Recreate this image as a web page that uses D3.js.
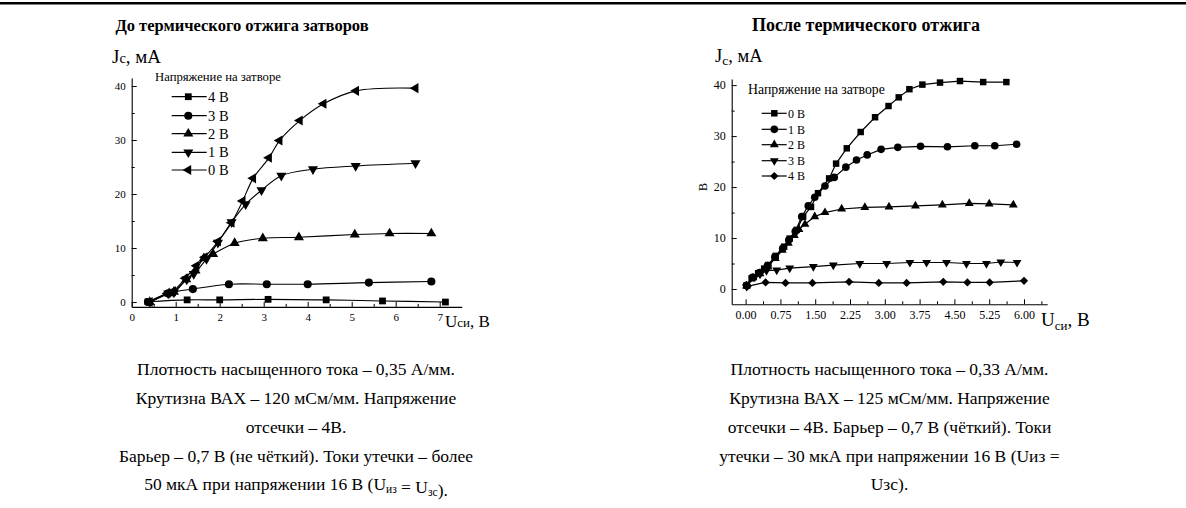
<!DOCTYPE html>
<html><head><meta charset="utf-8">
<script src="https://cdn.jsdelivr.net/npm/d3@7"></script>
<style>
html,body{margin:0;padding:0;background:#fff;}
svg{display:block;font-family:"Liberation Serif","Times New Roman",serif;}
</style></head>
<body>
<svg id="c" width="1186" height="508"></svg>
<script>
// ---------- DATA ----------
const titleLeft = "До термического отжига затворов";
const titleRight = "После термического отжига";
const legendTitle = "Напряжение на затворе";

const leftLabels = ["4 В","3 В","2 В","1 В","0 В"];
const left4V = [[0.37,0.05],[1.26,0.4],[2.0,0.4],[3.10,0.5],[4.42,0.4],[5.70,0.2],[7.13,0.0]];
const left3V = [[0.37,0.0],[0.83,1.6],[1.39,2.4],[2.21,3.3],[3.07,3.3],[4.0,3.3],[5.39,3.6],[6.81,3.8]];
const left2V = [[0.41,0.0],[0.85,1.6],[0.96,1.9],[1.24,4.2],[1.45,5.8],[1.64,8.1],[1.85,8.9],[2.34,10.9],[2.98,11.8],[3.80,12.0],[5.07,12.5],[5.86,12.7],[6.81,12.7]];
const left1V = [[0.41,0.0],[0.83,1.6],[0.96,1.8],[1.25,4.2],[1.41,5.2],[1.70,8.0],[1.96,11.0],[2.27,14.8],[2.59,18.1],[2.95,20.7],[3.40,23.4],[4.12,24.6],[5.09,25.2],[6.45,25.7]];
const left0V = [[0.41,0.0],[0.81,1.6],[0.94,2.0],[1.22,4.4],[1.47,6.7],[1.66,8.3],[1.96,11.2],[2.27,14.7],[2.52,18.7],[2.76,22.9],[3.12,26.7],[3.36,29.9],[3.82,33.6],[4.36,36.7],[5.10,39.1],[6.45,39.6]];
const leftXTicks = [0,1,2,3,4,5,6,7];
const leftYTicks = [0,10,20,30,40];

const rightLabels = ["0 В","1 В","2 В","3 В","4 В"];
const right0V = [[0.02,0.7],[0.13,2.1],[0.27,3.1],[0.40,4.0],[0.49,4.7],[0.65,6.5],[0.83,8.3],[0.95,9.9],[1.10,11.6],[1.24,14.2],[1.41,16.1],[1.56,18.8],[1.80,21.7],[1.95,24.6],[2.18,27.6],[2.48,30.8],[2.79,33.7],[3.08,35.9],[3.30,37.6],[3.53,39.2],[3.81,40.1],[4.19,40.5],[4.62,40.8],[5.12,40.6],[5.62,40.6]];
const right1V = [[0.02,0.7],[0.15,2.3],[0.30,3.2],[0.47,4.6],[0.63,6.3],[0.80,8.0],[0.93,9.6],[1.07,11.3],[1.21,14.2],[1.35,16.3],[1.49,18.0],[1.71,20.2],[1.91,21.9],[2.16,23.9],[2.39,25.3],[2.62,26.3],[2.92,27.4],[3.28,27.8],[3.77,28.0],[4.35,27.9],[4.94,28.1],[5.37,28.1],[5.84,28.4]];
const right2V = [[0.02,0.6],[0.16,2.2],[0.31,3.0],[0.48,4.4],[0.64,6.0],[0.79,7.6],[0.92,9.0],[1.05,10.5],[1.15,11.7],[1.28,12.7],[1.49,14.2],[1.71,15.0],[2.07,15.7],[2.57,16.0],[3.09,16.1],[3.66,16.3],[4.24,16.5],[4.82,16.8],[5.25,16.7],[5.77,16.5]];
const right3V = [[0.02,0.5],[0.20,2.4],[0.31,2.9],[0.45,3.6],[0.67,3.7],[0.95,4.1],[1.46,4.4],[1.89,4.7],[2.46,5.0],[3.04,5.0],[3.54,5.2],[3.90,5.2],[4.33,5.2],[4.76,5.0],[5.19,5.0],[5.50,5.3],[5.85,5.2]];
const right4V = [[0.04,0.5],[0.43,1.3],[0.86,1.2],[1.44,1.2],[2.23,1.4],[2.87,1.2],[3.47,1.2],[4.26,1.4],[4.78,1.3],[5.26,1.3],[6.00,1.6]];
const rightXTicks = [0,0.75,1.5,2.25,3,3.75,4.5,5.25,6];
const rightYTicks = [0,10,20,30,40];

const captionLeft = [
  ["Плотность насыщенного тока – 0,35 А/мм."],
  ["Крутизна ВАХ – 120 мСм/мм. Напряжение"],
  ["отсечки – 4В."],
  ["Барьер – 0,7 В (не чёткий). Токи утечки – более"],
  ["50 мкА при напряжении 16 В (U", {sub:"из"}, " = U", {sub:"зс"}, ")."]
];
const captionRight = [
  ["Плотность насыщенного тока – 0,33 А/мм."],
  ["Крутизна ВАХ – 125 мСм/мм. Напряжение"],
  ["отсечки – 4В. Барьер – 0,7 В (чёткий). Токи"],
  ["утечки – 30 мкА при напряжении 16 В (Uиз ="],
  ["Uзс)."]
];

// ---------- DRAW ----------
const svg = d3.select("#c");
svg.append("rect").attr("x",0).attr("y",2).attr("width",1186).attr("height",2.5).attr("fill","#000");

function sym(type, rot){ return {type, rot}; }
const SQ = sym(d3.symbolSquare,0), CI = sym(d3.symbolCircle,0), TU = sym(d3.symbolTriangle,0),
      TD = sym(d3.symbolTriangle,180), TL = sym(d3.symbolTriangle,-90), DI = sym(d3.symbolSquare,45);

function drawMarker(g, s, size, x, y){
  g.append("path").attr("d", d3.symbol().type(s.type).size(size)())
    .attr("transform", `translate(${x},${y}) rotate(${s.rot})`).attr("fill","#000");
}

function panel(opt){
  const g = svg.append("g");
  const x = d3.scaleLinear().domain(opt.xDom).range(opt.xRange);
  const y = d3.scaleLinear().domain(opt.yDom).range(opt.yRange);
  const y0 = opt.yRange[0], x0 = opt.xRange[0];
  const xa = g.append("g").attr("transform",`translate(0,${y0})`)
    .call(d3.axisBottom(x).tickValues(opt.xMinor).tickSize(-3).tickFormat(""));
  const ya = g.append("g").attr("transform",`translate(${x0},0)`)
    .call(d3.axisLeft(y).tickValues(opt.yMinor).tickSize(-3).tickFormat(""));
  g.append("g").attr("transform",`translate(0,${y0})`)
    .call(d3.axisBottom(x).tickValues(opt.xTicks).tickSize(-5).tickSizeOuter(0).tickPadding(opt.xPad).tickFormat(opt.xFmt));
  g.append("g").attr("transform",`translate(${x0},0)`)
    .call(d3.axisLeft(y).tickValues(opt.yTicks).tickSize(-5).tickSizeOuter(0).tickPadding(opt.yPad).tickFormat(d3.format("d")));
  [xa,ya].forEach(a=>a.select(".domain").remove());
  g.selectAll(".tick line").attr("stroke","#000").attr("stroke-width",1);
  g.selectAll(".domain").attr("stroke","#000").attr("stroke-width",1.1);
  g.selectAll(".tick text").attr("font-family",'"Liberation Serif","Times New Roman",serif')
    .attr("font-size",opt.tickFont).attr("fill","#000");
  const line = d3.line().x(d=>x(d[0])).y(d=>y(d[1])).curve(opt.curve);
  opt.series.forEach(s=>{
    g.append("path").attr("d",line(s.data)).attr("fill","none").attr("stroke","#000").attr("stroke-width",opt.lw);
    s.data.forEach(d=>drawMarker(g, s.sym, s.size, x(d[0]), y(d[1])));
  });
  return g;
}

const leftSeries = [
  {data:left4V, sym:SQ, size:46},
  {data:left3V, sym:CI, size:52},
  {data:left2V, sym:TU, size:44},
  {data:left1V, sym:TD, size:44},
  {data:left0V, sym:TL, size:44}
];
panel({
  xDom:[0,7.5], xRange:[131.7,461.7], yDom:[-0.9,41.5], yRange:[306.9,77.9],
  xTicks:leftXTicks, yTicks:leftYTicks,
  xMinor:d3.range(0.5,7.5,1), yMinor:[5,15,25,35],
  xFmt:d3.format("d"), xPad:6, yPad:6, tickFont:11,
  curve:d3.curveCatmullRom.alpha(0.5), lw:1.1, series:leftSeries
});

const rightSeries = [
  {data:right0V, sym:SQ, size:42},
  {data:right1V, sym:CI, size:46},
  {data:right2V, sym:TU, size:34},
  {data:right3V, sym:TD, size:34},
  {data:right4V, sym:DI, size:34}
];
panel({
  xDom:[-0.3,6.5], xRange:[731.7,1047.2], yDom:[-3,41.2], yRange:[304.3,79],
  xTicks:rightXTicks, yTicks:rightYTicks,
  xMinor:d3.range(-0.375,6.5,0.75).filter(v=>v>-0.3), yMinor:[5,15,25,35],
  xFmt:d3.format(".2f"), xPad:6, yPad:6, tickFont:12,
  curve:d3.curveLinear, lw:1.2, series:rightSeries
});

// legends
function legend(x0, titleY, titleFont, rows, lineX1, lineX2, symX, textX, font, series, labels){
  const g = svg.append("g");
  g.append("text").attr("x",x0).attr("y",titleY).attr("font-size",titleFont).text(legendTitle);
  labels.forEach((lab,i)=>{
    const yy = rows[i];
    g.append("line").attr("x1",lineX1).attr("x2",lineX2).attr("y1",yy).attr("y2",yy).attr("stroke","#000").attr("stroke-width",1.2);
    drawMarker(g, series[i].sym, series[i].size, symX, yy);
    g.append("text").attr("x",textX).attr("y",yy).attr("dy","0.35em").attr("font-size",font).text(lab);
  });
}
legend(155, 81, 12.7, [96.7,115.7,133.7,152.3,170], 171.7,206.7,188.3,208, 14.5, leftSeries, leftLabels);
legend(748, 94, 13.8, [113.3,129.3,144.7,160.7,176], 761.7,786.7,774.3,788, 12, rightSeries, rightLabels);

// axis titles
const lt = svg.append("text").attr("x",112).attr("y",63).attr("font-size",19);
lt.append("tspan").text("J"); lt.append("tspan").attr("font-size",14.5).text("c"); lt.append("tspan").text(", мА");
const rt = svg.append("text").attr("x",715).attr("y",62).attr("font-size",18.5);
rt.append("tspan").text("J"); rt.append("tspan").attr("font-size",13.5).attr("dy",3).text("c"); rt.append("tspan").attr("dy",-3).text(", мА");
svg.append("text").attr("transform","translate(707,187) rotate(-90)").attr("text-anchor","middle").attr("font-size",12).text("В");

const lx = svg.append("text").attr("x",445).attr("y",327).attr("font-size",17);
lx.append("tspan").text("U"); lx.append("tspan").attr("font-size",13).text("си"); lx.append("tspan").text(", В");
const rx = svg.append("text").attr("x",1041).attr("y",326).attr("font-size",19);
rx.append("tspan").text("U"); rx.append("tspan").attr("font-size",13).attr("dy",4).text("си"); rx.append("tspan").attr("dy",-4).text(", В");

// titles
svg.append("text").attr("x",242).attr("y",31).attr("text-anchor","middle").attr("font-size",16.5).attr("font-weight","bold").text(titleLeft);
svg.append("text").attr("x",866).attr("y",31).attr("text-anchor","middle").attr("font-size",18).attr("font-weight","bold").text(titleRight);

// captions
function caption(cx, lines){
  const base = [375,404,433,461.5,490];
  lines.forEach((parts,i)=>{
    const t = svg.append("text").attr("x",cx).attr("y",base[i]).attr("text-anchor","middle").attr("font-size",17.5);
    parts.forEach(p=>{
      if(typeof p === "string") t.append("tspan").text(p);
      else { t.append("tspan").attr("font-size",11.5).attr("dy",3).text(p.sub); t.append("tspan").attr("dy",-3).text(""); }
    });
  });
}
caption(296, captionLeft);
caption(889.5, captionRight);
</script>
</body></html>
